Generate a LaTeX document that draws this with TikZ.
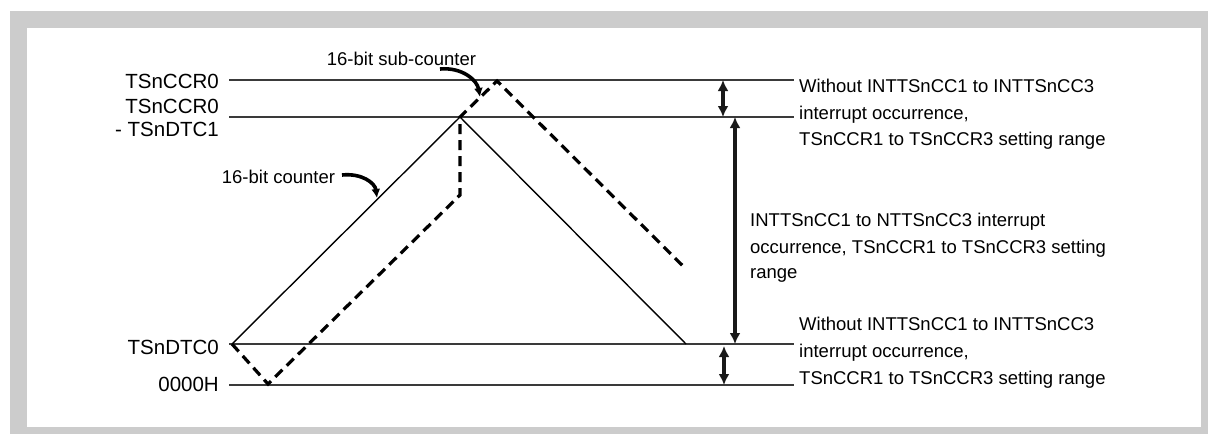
\documentclass[tikz,border=0pt]{standalone}
\usepackage{fontspec}
\setmainfont{Liberation Sans}
\usetikzlibrary{arrows.meta}
\definecolor{framegray}{HTML}{CCCCCC}
\definecolor{linegray}{HTML}{3A3A3A}
\begin{document}
\begin{tikzpicture}[x=1pt,y=-1pt,
  lvl/.style={draw=linegray,line width=1.4pt},
  ctr/.style={draw=black,line width=1.4pt},
  sub/.style={draw=black,line width=3.2pt,dash pattern=on 10pt off 6pt},
  rng/.style={draw=black!90,line width=3.6pt,{Latex[length=11pt,width=11pt]}-{Latex[length=11pt,width=11pt]},shorten <=0pt,shorten >=0pt},
  pointer/.style={draw=black,line width=3.6pt,-{Latex[length=9pt,width=9pt]}},
  lbl/.style={inner sep=0pt,anchor=base east,font=\fontsize{20.5}{24}\selectfont},
  txt/.style={inner sep=0pt,anchor=base west,font=\fontsize{18.5}{22}\selectfont}]
\useasboundingbox (0,0) rectangle (1208,434);
\fill[white] (0,0) rectangle (1208,434);
\fill[framegray] (10,11) rectangle (1208,434);
\fill[white] (27,28) rectangle (1201,427);

% level coordinates
\coordinate (a0) at (229,80);  \coordinate (a1) at (794,80);
\coordinate (b0) at (229,117); \coordinate (b1) at (794,117);
\coordinate (c0) at (229,344); \coordinate (c1) at (794,344);
\coordinate (d0) at (229,385); \coordinate (d1) at (794,385);
\draw[lvl] (a0) -- (a1);
\draw[lvl] (b0) -- (b1);
\draw[lvl] (c0) -- (c1);
\draw[lvl] (d0) -- (d1);

% left labels
\node[lbl] (la) at (219,88.3) {TSnCCR0};
\node[lbl] (lb1) at (219,113.3) {TSnCCR0};
\node[lbl] (lb2) at (219,136.7) {- TSnDTC1};
\node[lbl] (lc) at (219,354.3) {TSnDTC0};
\node[lbl] (ld) at (219,391.7) {0000H};

% counters
\coordinate (s0) at (232,344);
\coordinate (sp) at (460,117);
\coordinate (se) at (686,344);
\draw[ctr,line join=miter] (s0) -- (sp) -- (se);

\coordinate (d1a) at (268,384);
\coordinate (d2) at (460,195);
\coordinate (d3) at (460,117);
\coordinate (d4) at (497,81);
\coordinate (d5) at (684,267);
\draw[sub] (s0) -- (d1a) -- (d2) -- (d3) -- (d4) -- (d5);

% pointer labels
\node[txt] (cnt) at (221.7,183.3) {16-bit counter};
\node[txt] (subc) at (326.7,65) {16-bit sub-counter};
\coordinate (cntS) at (342,175);
\coordinate (cntT) at (377,198);
\coordinate (subS) at (440,69);
\coordinate (subT) at (480,97);
\draw[pointer] (cntS) .. controls (362,173) and (375,183) .. (cntT);
\draw[pointer] (subS) .. controls (462,67) and (477,80) .. (subT);

% range arrows
\coordinate (r1a) at (723,80);  \coordinate (r1b) at (723,117);
\coordinate (r2a) at (735,117); \coordinate (r2b) at (735,344);
\coordinate (r3a) at (724,346); \coordinate (r3b) at (724,385);
\draw[rng] (r1a) -- (r1b);
\draw[rng] (r2a) -- (r2b);
\draw[rng] (r3a) -- (r3b);

% right texts
\node[txt] (t1) at (799,92.5) {Without INTTSnCC1 to INTTSnCC3};
\node[txt] (t2) at (799,119) {interrupt occurrence,};
\node[txt] (t3) at (799,145.5) {TSnCCR1 to TSnCCR3 setting range};
\node[txt] (m1) at (750,226.7) {INTTSnCC1 to NTTSnCC3 interrupt};
\node[txt] (m2) at (750,253) {occurrence, TSnCCR1 to TSnCCR3 setting};
\node[txt] (m3) at (750,278) {range};
\node[txt] (u1) at (799,330) {Without INTTSnCC1 to INTTSnCC3};
\node[txt] (u2) at (799,357) {interrupt occurrence,};
\node[txt] (u3) at (799,384) {TSnCCR1 to TSnCCR3 setting range};
\end{tikzpicture}
\end{document}
